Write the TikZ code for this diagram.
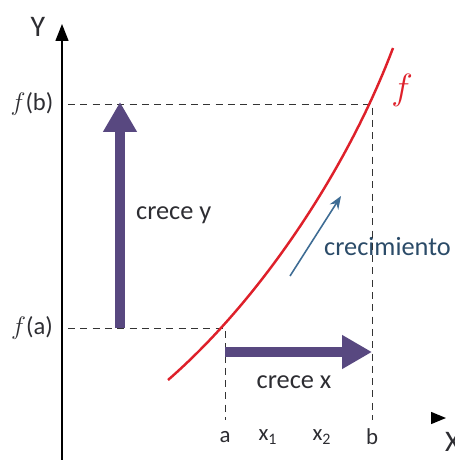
\documentclass[tikz,border=0pt]{standalone}
\usepackage{fontspec}
\setmainfont{Carlito}
\usepackage{xcolor}
\definecolor{growviolet}{RGB}{88,72,128}
\definecolor{curvered}{RGB}{222,32,42}
\definecolor{trendblue}{RGB}{62,108,148}
\definecolor{labgray}{RGB}{45,45,50}
\usetikzlibrary{positioning,arrows.meta,calc}

\begin{document}
\begin{tikzpicture}[x=0.2mm,y=-0.2mm,
      lab/.style={font=\fontsize{13}{15}\selectfont,text=labgray,inner sep=1pt},
      big/.style={font=\fontsize{14}{16}\selectfont,text=labgray,inner sep=1pt},
      guide/.style={dash pattern=on 4pt off 3pt,thin,black!80},
      growth/.style={line width=2mm,growviolet,-{Triangle[length=6mm,width=6.4mm]}}]
    \useasboundingbox (0,0) rectangle (454,460);
    \coordinate (ybot) at (62,460);
    \coordinate (ytop) at (62,24);
    \coordinate (xfrom) at (434,418);
    \coordinate (xtip) at (446,418);
    \coordinate (pa) at (225,328);
    \coordinate (pb) at (372,104);
    \coordinate (fbl) at (68,104);
    \coordinate (fal) at (68,328);
    \coordinate (ta) at (225,420);
    \coordinate (tb) at (372,420);
    \node[font=\fontsize{17}{19}\selectfont,text=labgray] (ylab) at (38,27) {Y};
    \node[font=\fontsize{17}{19}\selectfont,text=labgray,anchor=west] (xlab) at (439,442) {X};
    \node[big] (fb) at (32,104) {$f$(b)};
    \node[big] (fa) at (32,328) {$f$(a)};
    \node[lab] (a) at (225,437) {a};
    \node[lab] (x1) at (268,437) {x\textsubscript{1}};
    \node[lab] (x2) at (322,437) {x\textsubscript{2}};
    \node[lab] (b) at (372,437) {b};
    \node[big,font=\fontsize{15}{17}\selectfont,anchor=west] (cy) at (134,215) {crece y};
    \node[big,font=\fontsize{15}{17}\selectfont] (cx) at (294,382) {crece x};
    \node[big,font=\fontsize{15}{17}\selectfont,text=trendblue!70!black,anchor=west] (crec) at (322,247) {crecimiento};
    \node[font=\fontsize{20}{22}\selectfont,text=curvered] (flab) at (402,90) {$f$};
    \draw[-{Triangle[length=3.4mm,width=2.6mm]},thick] (ybot) -- (ytop);
    \draw[-{Triangle[length=3mm,width=2.4mm]},thick] (xfrom) -- (xtip);
    \draw[guide] (fbl) -- (pb) -- (tb);
    \draw[guide] (fal) -- (pa) -- (ta);
    \draw[curvered,line width=1.4pt] (168,380) .. controls (260,300) and (347,170) .. (393,48);
    \draw[growth] (120,328) -- (120,102);
    \draw[growth] (pa |- 0,352) -- (372,352);
    \draw[trendblue,line width=0.9pt,-{Stealth[length=2.6mm,width=2mm]}] (290,276) -- (341,196);
  \end{tikzpicture}
\end{document}
